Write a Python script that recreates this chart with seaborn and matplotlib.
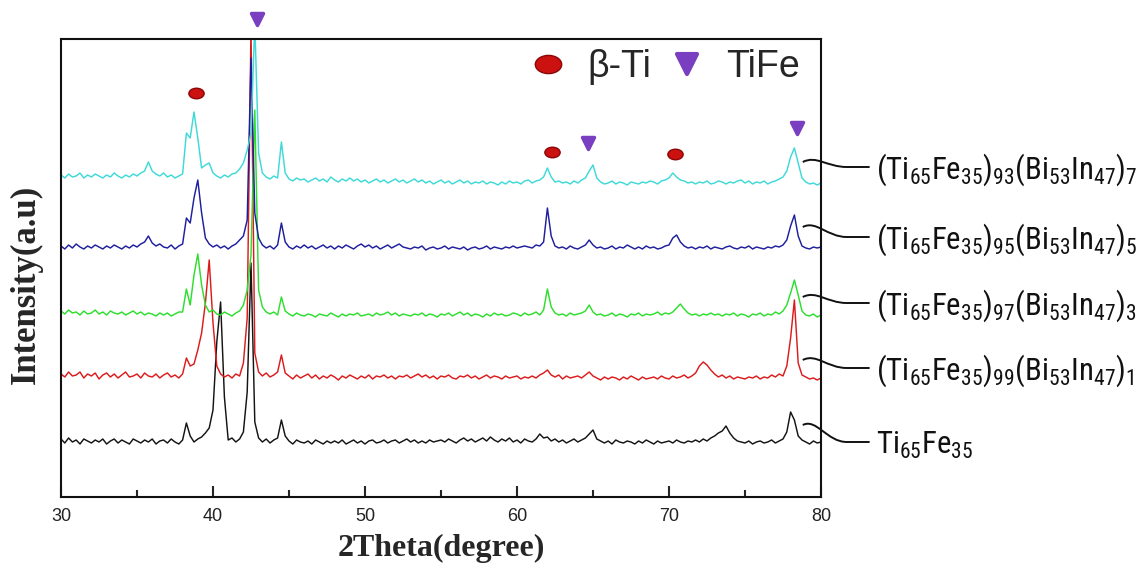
import numpy as np
import pandas as pd
import matplotlib
matplotlib.use("Agg")
import matplotlib.pyplot as plt
import seaborn as sns
from matplotlib.path import Path
from matplotlib.patches import PathPatch
from matplotlib.lines import Line2D
from matplotlib.markers import MarkerStyle
from matplotlib.ticker import MultipleLocator
from matplotlib.transforms import Affine2D
from matplotlib import font_manager
from matplotlib.font_manager import FontProperties

# ---------------- data ----------------
two_theta = np.round(np.arange(30.0, 80.001, 0.25), 2)   # measurement angles (deg)

sample_keys = ["x0", "x1", "x3", "x5", "x7"]
sample_labels = [
    r"$\mathregular{Ti_{65}Fe_{35}}$",
    r"$\mathregular{(Ti_{65}Fe_{35})_{99}(Bi_{53}In_{47})_{1}}$",
    r"$\mathregular{(Ti_{65}Fe_{35})_{97}(Bi_{53}In_{47})_{3}}$",
    r"$\mathregular{(Ti_{65}Fe_{35})_{95}(Bi_{53}In_{47})_{5}}$",
    r"$\mathregular{(Ti_{65}Fe_{35})_{93}(Bi_{53}In_{47})_{7}}$",
]
stack_offset = [55, 119, 182, 249, 314]
colors = ["#141414", "#dc1c1c", "#2ede2e", "#1e1e9e", "#3fd9d9"]
connector_start = [17, 18, 18, 21, 21]
label_level = [0, 10, 12, 11, 16]

int_x0 = [
    3, -1, 4, 0,   2, -2, 3, 1,   -1, 2, 0, 3,   -2, 1, 3, -1,
    2, 0, -2, 3,   1, -1, 2, 0,   3, -2, 1, 2,   -1, 3, 0, -2,
    2, 19, 6, 0,   3, 5, 9, 14,   32, 100, 140, 45,   2, 4, 0, 3,
    10, 50, 179, 20,   4, 0, 3, -1,   2, 4, 22, 6,   1, -2, 2, 0,
    -1, 1, -2, 2,   0, -2, 1, -1,   1, -1, 2, -2,   0, 2, -1, 1,
    -2, 1, 2, -1,   0, 2, -1, 1,   2, -1, 1, 3,   0, 2, -1, 1,
    -1, 2, 0, 1,   2, 0, 3, 1,   -1, 2, 4, 1,   3, 0, 2, 4,
    1, 5, 2, 0,   3, 1, 4, 0,   2, -1, 3, 1,   0, 3, 8, 4,
    5, 1, 3, 0,   2, -1, 1, 3,   0, 2, 4, 8,   12, 3, 1, -1,
    1, -2, 2, 0,   -1, 1, 0, -2,   1, -1, 2, 0,   -2, 1, -1, 0,
    1, -1, 2, 0,   -1, 1, 0, 2,   0, 3, 1, 4,   6, 9, 11, 16,
    9, 4, 1, 0,   -1, 1, -2, 0,   1, -1, 0, 2,   -1, 1, 3, 10,
    30, 22, 6, 2,   0, -2, 1, -1,   0,
]
int_x1 = [
    4, 1, 6, 2,   3, 6, 0, 4,   2, 5, -1, 3,   5, 1, 4, 0,
    3, 6, 1, 2,   4, 0, 5, 2,   1, 4, 0, 3,   5, 1, 3, 0,
    4, 20, 12, 14,   28, 45, 75, 118,   55, 12, 4, 1,   3, 0, 4, 2,
    15, 60, 350, 25,   6, 2, 5, 1,   3, 6, 23, 5,   2, -1, 3, 0,
    2, 4, 0, 3,   -1, 2, 0, 3,   1, -2, 2, 0,   3, 1, -1, 2,
    0, 3, -1, 2,   1, 3, 0, 2,   -1, 2, 1, 3,   0, 2, 4, 1,
    3, 0, 2, -1,   2, 1, 3, 0,   -1, 2, 1, 3,   0, 2, -1, 1,
    3, 0, 2, 1,   -1, 2, 0, 1,   2, -1, 1, 0,   2, 0, 3, 5,
    8, 3, 1, 3,   -1, 2, 0, 1,   2, 0, 3, 6,   2, 0, -2, 1,
    -1, 1, 0, -2,   1, -1, 2, 0,   -2, 1, -1, 0,   1, -1, 2, 0,
    -1, 2, 0, 1,   3, 0, 2, 5,   12, 16, 13, 8,   4, 1, 3, 0,
    2, -1, 1, 0,   -1, 1, 0, 2,   -1, 1, 0, 3,   1, 4, 2, 12,
    40, 78, 15, 3,   1, -1, 0, -2,   0,
]
int_x3 = [
    4, 1, 5, 2,   3, 0, 4, 1,   2, 5, 1, 3,   0, 4, 2, 1,
    3, 0, 2, 4,   1, 3, 0, 2,   1, -1, 2, 0,   2, -1, 1, 3,
    3, 26, 10, 40,   61, 30, 10, 3,   5, 1, 0, 3,   1, -1, 2, 4,
    10, 25, 60, 205,   25, 8, 3, 1,   3, 0, 18, 4,   1, -1, 2, 0,
    -1, 1, 0, -2,   1, 0, -1, 2,   0, -2, 1, -1,   1, 0, 2, -1,
    0, 1, -1, 2,   0, 1, 3, 0,   2, -1, 1, 0,   -1, 1, 0, 2,
    -1, 1, 0, -2,   1, 0, 2, -1,   1, 3, 0, 2,   -1, 1, 0, -2,
    1, -1, 2, 0,   1, -1, 0, 2,   1, -1, 2, 0,   1, 3, 0, 5,
    26, 8, 2, 0,   1, -1, 2, 0,   1, 2, 4, 10,   3, 0, 1, -1,
    0, 2, -1, 1,   0, -2, 1, 0,   2, -1, 1, 0,   1, 3, 0, 2,
    1, 3, 7, 11,   6, 2, 0, 1,   -1, 1, 0, 2,   0, 1, -1, 1,
    0, 2, -1, 1,   0, -2, 1, 0,   2, -1, 1, 0,   3, 1, 4, 10,
    22, 35, 20, 4,   0, -1, 1, -2,   0,
]
int_x5 = [
    2, -1, 3, 0,   4, 1, -1, 2,   0, 3, 1, -1,   2, 0, 3, 1,
    -1, 2, 0, 3,   1, 4, 6, 12,   5, 2, 4, 1,   0, 3, -1, 2,
    4, 30, 25, 50,   68, 35, 10, 4,   1, 3, 0, 2,   -1, 2, 4, 8,
    12, 28, 190, 35,   10, 3, 0, 2,   -1, 3, 25, 6,   1, -1, 2, 0,
    3, 0, 2, -1,   1, 3, 0, 2,   -1, 2, 0, 3,   1, -1, 2, 4,
    1, 3, 0, 2,   -1, 1, 3, 0,   2, 4, 1, 0,   -1, 1, 0, 2,
    -2, 0, 1, -1,   0, 2, -1, 1,   0, -1, 1, -2,   0, 1, -1, 0,
    2, -1, 1, 0,   -1, 1, 0, 2,   0, 1, 2, 1,   0, 3, 2, 6,
    40, 12, 2, 0,   1, -1, 2, 0,   -1, 1, 3, 8,   3, 0, 1, -1,
    0, 2, -1, 1,   0, 3, 1, -1,   1, -1, 2, 0,   1, -1, 0, 2,
    3, 10, 13, 6,   2, 0, 1, -1,   1, 0, 2, -1,   1, 0, -1, 1,
    2, 0, -1, 1,   0, 2, -1, 1,   0, -1, 1, 0,   2, 1, 3, 8,
    22, 33, 12, 2,   0, -1, 1, 0,   1,
]
int_x7 = [
    8, 5, 9, 6,   7, 10, 5, 8,   6, 9, 7, 5,   8, 6, 10, 7,
    5, 8, 6, 9,   7, 10, 12, 21,   12, 9, 7, 10,   6, 8, 5, 7,
    9, 50, 45, 71,   45, 15, 18, 20,   10, 7, 5, 8,   6, 9, 10, 14,
    20, 33, 50, 160,   30, 10, 6, 4,   7, 5, 41, 10,   4, 2, 5, 3,
    4, 1, 3, 5,   2, 4, 1, 6,   3, 1, 4, 2,   5, 2, 4, 1,
    3, 0, 2, 4,   1, 3, 0, 2,   4, 1, 3, 0,   2, 4, 1, 3,
    0, 2, -1, 1,   3, 0, 2, -1,   1, 3, 0, 2,   -1, 1, 0, 2,
    -1, 1, 0, -2,   1, -1, 2, 0,   1, -1, 2, 3,   0, 2, 3, 6,
    15, 6, 1, 2,   0, 1, -1, 2,   0, 3, 5, 12,   18, 5, 1, -1,
    0, 2, -1, 1,   0, -2, 1, 0,   -1, 1, 0, 2,   1, -1, 2, 3,
    5, 10, 6, 3,   2, 0, 1, -1,   1, 0, 2, -1,   0, 2, 1, -1,
    1, 0, 2, 3,   0, 2, -1, 1,   0, 2, -1, 1,   2, 4, 6, 12,
    26, 35, 20, 5,   1, -1, 0, -2,   0,
]
intensities = [int_x0, int_x1, int_x3, int_x5, int_x7]

beta_ti_pos = [38.9, 62.3, 70.4]
beta_ti_level = [404, 345, 343]
tife_pos = [42.9, 64.7, 78.4]
tife_level = [478, 354, 369]

legend_labels = ["\u03b2-Ti", "TiFe"]
xlabel_text = "2Theta(degree)"
ylabel_text = "Intensity(a.u)"
x_ticks = [30, 40, 50, 60, 70, 80]

# ---------------- style ----------------
sns.set_style("white")
plt.rcParams["font.family"] = ["Liberation Sans", "DejaVu Sans"]


def condensed_font():
    pref = ["liberation sans narrow", "arial narrow", "roboto condensed",
            "open sans condensed", "dejavu sans condensed", "noto sans condensed"]
    found = []
    for f in font_manager.fontManager.ttflist:
        nm = f.name.lower()
        fn = f.fname.lower()
        st = str(f.stretch).lower()
        if f.style != "normal":
            continue
        try:
            wt = int(f.weight)
        except Exception:
            wt = 400 if str(f.weight) in ("normal", "regular") else 700
        if wt != 400:
            continue
        if "mono" in nm or ("serif" in nm and "sans" not in nm):
            continue
        cond = ("narrow" in nm or "condensed" in nm or "narrow" in fn or "condensed" in fn
                or st in ("condensed", "semi-condensed", "extra-condensed"))
        if cond:
            rank = len(pref)
            for i, p in enumerate(pref):
                if p in nm or p.replace(" ", "") in fn.replace("-", "").replace("_", ""):
                    rank = i
                    break
            found.append((rank, f.fname))
    if found:
        found.sort()
        return found[0][1]
    return None


cond_path = condensed_font()

rows = []
for key, off, vals in zip(sample_keys, stack_offset, intensities):
    for t, v in zip(two_theta, vals):
        rows.append({"two_theta": t, "counts": v + off, "sample": key})
df = pd.DataFrame(rows)

W, H = 1146, 569
fig = plt.figure(figsize=(W / 100, H / 100), dpi=100)
ax = fig.add_axes([61 / W, 72 / H, 760 / W, 458 / H])

sns.lineplot(data=df, x="two_theta", y="counts", hue="sample",
             palette=dict(zip(sample_keys, colors)), estimator=None,
             sort=False, legend=False, linewidth=1.05, ax=ax)

ax.set_xlim(30, 80)
ax.set_ylim(0, 458)
ax.set_xticks(x_ticks)
ax.xaxis.set_minor_locator(MultipleLocator(5))
ax.set_yticks([])
ax.tick_params(axis="x", which="both", direction="in", top=False, bottom=True,
               width=1.5, labelsize=13, labelcolor="#222222", pad=8)
ax.tick_params(axis="x", which="major", length=8)
ax.tick_params(axis="x", which="minor", length=5)
for s in ax.spines.values():
    s.set_visible(True)
    s.set_linewidth(1.5)
    s.set_color("#111111")

ax.set_xlabel(xlabel_text, family="Liberation Serif", fontweight="bold", fontsize=23)
ax.xaxis.set_label_coords(0.5, -0.08)
ax.set_ylabel(ylabel_text, family="Liberation Serif", fontweight="bold", fontsize=25)
ax.yaxis.set_label_coords(-0.024, 0.465)

# phase markers
ell = Path.unit_circle().transformed(Affine2D().scale(1.45, 1.0))
red_face, red_edge = "#cc1111", "#8c0606"
purple = "#7a3fc0"
ax.plot(beta_ti_pos, beta_ti_level, linestyle="none", marker=ell, markersize=11,
        markerfacecolor=red_face, markeredgecolor=red_edge, clip_on=False)
tri = MarkerStyle("v", joinstyle="round")
ax.plot(tife_pos, tife_level, linestyle="none", marker=tri, markersize=8,
        markerfacecolor=purple, markeredgecolor=purple, markeredgewidth=2.5, clip_on=False)

handles = [
    Line2D([], [], linestyle="none", marker=ell, markersize=19,
           markerfacecolor=red_face, markeredgecolor=red_edge),
    Line2D([], [], linestyle="none", marker=tri, markersize=14,
           markerfacecolor=purple, markeredgecolor=purple, markeredgewidth=3),
]
ax.legend(handles, legend_labels, ncol=2, frameon=False, loc="center",
          bbox_to_anchor=(0.792, 0.939), handlelength=1.2, handletextpad=0.45,
          columnspacing=0.35, prop={"family": "Liberation Sans", "size": 27})

# connectors and sample labels
if cond_path:
    label_fp = FontProperties(fname=cond_path, size=24)
else:
    label_fp = FontProperties(family="Liberation Sans", size=24)

label_texts = []
for off, cs, ll, lab in zip(stack_offset, connector_start, label_level, sample_labels):
    y0 = off + cs
    y1 = off + ll
    verts = [(78.8, y0), (79.7, y0 + 7), (80.4, y1), (81.7, y1), (83.2, y1)]
    codes = [Path.MOVETO, Path.CURVE4, Path.CURVE4, Path.CURVE4, Path.LINETO]
    ax.add_patch(PathPatch(Path(verts, codes), fill=False, edgecolor="#111111",
                           linewidth=1.4, clip_on=False))
    t = ax.text(83.6, y1 - 12, lab, ha="left", va="baseline",
                fontproperties=label_fp.copy(), color="#111111", clip_on=False)
    label_texts.append(t)

# fit the longest composition label to the width it takes in the reference (~262 px)
fig.canvas.draw()
renderer = fig.canvas.get_renderer()
widest = max(t.get_window_extent(renderer).width for t in label_texts)
new_size = min(28, 24 * 262.0 / widest)
for t in label_texts:
    t.set_fontsize(new_size)

fig.savefig("out.png", dpi=100)
